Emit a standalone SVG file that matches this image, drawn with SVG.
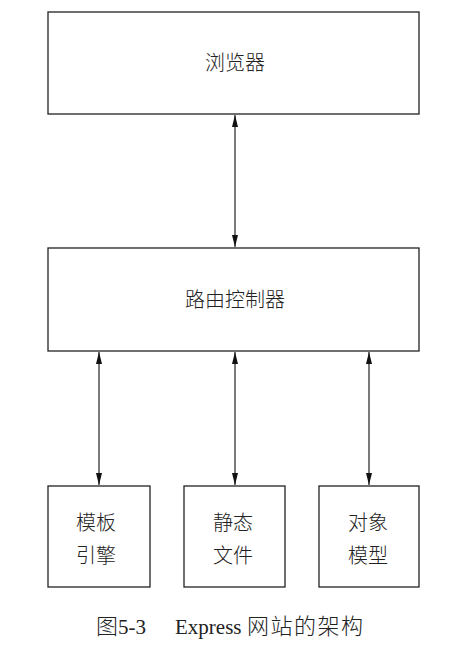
<svg xmlns="http://www.w3.org/2000/svg" width="475" height="652" viewBox="0 0 475 652">
<style>
.box{fill:#fff;stroke:#222;stroke-width:1.3}
.lbl{font-family:"Noto Sans CJK SC",sans-serif;font-size:20px;fill:#222;text-anchor:middle;font-weight:300}
.cap{font-family:"Liberation Serif","Noto Sans CJK SC",serif;font-size:21px;fill:#222}
.cjk{font-family:"Noto Sans CJK SC",sans-serif;font-weight:300;font-size:22px}
.con{stroke:#222;stroke-width:1.2;fill:none;marker-start:url(#ah);marker-end:url(#ah)}
</style>
<defs>
<marker id="ah" viewBox="0 0 12 6" refX="12" refY="3" markerWidth="12" markerHeight="6" markerUnits="userSpaceOnUse" orient="auto-start-reverse">
<path d="M0,0 L12,3 L0,6 Z" fill="#111"/>
</marker>
</defs>
<rect width="475" height="652" fill="#fff"/>
<g id="connectors">
<line class="con" x1="235" y1="115" x2="235" y2="247"/>
<line class="con" x1="99" y1="352" x2="99" y2="485"/>
<line class="con" x1="235" y1="352" x2="235" y2="485"/>
<line class="con" x1="369" y1="352" x2="369" y2="485"/>
</g>
<g id="browser">
<rect class="box" x="48" y="12" width="371" height="102"/>
<text class="lbl" x="235" y="70">浏览器</text>
</g>
<g id="router">
<rect class="box" x="48" y="248" width="371" height="103"/>
<text class="lbl" x="235" y="307">路由控制器</text>
</g>
<g id="template">
<rect class="box" x="48" y="486" width="102" height="101"/>
<text class="lbl" x="96" y="530">模板</text>
<text class="lbl" x="96" y="563">引擎</text>
</g>
<g id="static">
<rect class="box" x="184" y="486" width="101" height="101"/>
<text class="lbl" x="233" y="530">静态</text>
<text class="lbl" x="233" y="563">文件</text>
</g>
<g id="model">
<rect class="box" x="319" y="486" width="100" height="101"/>
<text class="lbl" x="368" y="530">对象</text>
<text class="lbl" x="368" y="563">模型</text>
</g>
<text class="cap" x="96" y="634"><tspan class="cjk">图</tspan><tspan>5-3</tspan><tspan x="175">Express</tspan><tspan class="cjk" x="247" letter-spacing="1.5">网站的架构</tspan></text>
</svg>
